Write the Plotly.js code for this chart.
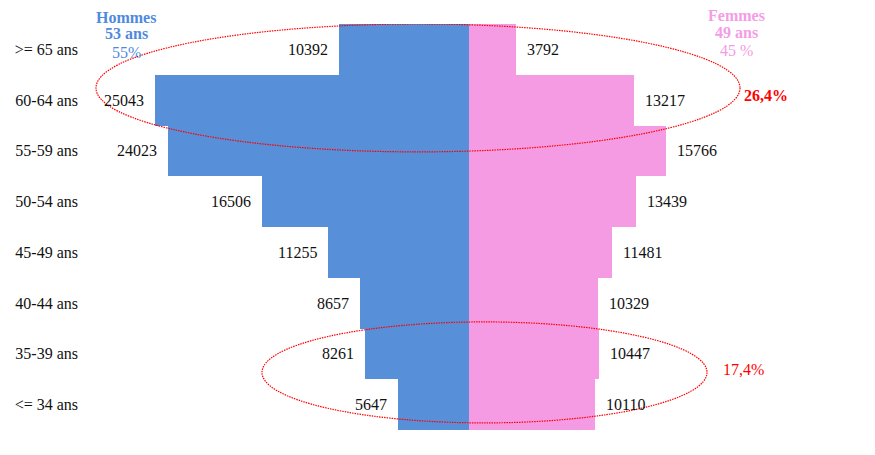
<!DOCTYPE html>
<html>
<head>
<meta charset="utf-8">
<script src="https://cdn.plot.ly/plotly-3.0.1.min.js"></script>
<style>html,body{margin:0;padding:0;background:#fff;}#chart{width:875px;height:455px;}</style>
</head>
<body>
<div id="chart"></div>
<script>
// Age groups, top to bottom
const categories = [">= 65 ans", "60-64 ans", "55-59 ans", "50-54 ans", "45-49 ans", "40-44 ans", "35-39 ans", "<= 34 ans"];
const hommes = [10392, 25043, 24023, 16506, 11255, 8657, 8261, 5647];
const femmes = [3792, 13217, 15766, 13439, 11481, 10329, 10447, 10110];
const hommesHeader = ["Hommes", "53 ans", "55%"];
const femmesHeader = ["Femmes", "49 ans", "45 %"];
const groupShares = ["26,4%", "17,4%"];

const blue = "#5790d9";
const pink = "#f59be3";
const serif = "'Liberation Serif', 'DejaVu Serif', serif";

const traces = [
  {
    type: "bar", orientation: "h", name: "Hommes",
    y: categories, x: hommes.map(v => -v),
    marker: {color: blue, line: {width: 0}},
    hoverinfo: "skip"
  },
  {
    type: "bar", orientation: "h", name: "Femmes",
    y: categories, x: femmes,
    marker: {color: pink, line: {width: 0}},
    hoverinfo: "skip"
  }
];

const annotations = [];
categories.forEach((c, i) => {
  annotations.push({x: -hommes[i], y: c, xref: "x", yref: "y", text: String(hommes[i]),
    showarrow: false, xanchor: "right", xshift: -9, font: {family: serif, size: 16, color: "#111"}});
  annotations.push({x: femmes[i], y: c, xref: "x", yref: "y", text: String(femmes[i]),
    showarrow: false, xanchor: "left", xshift: 9, font: {family: serif, size: 16, color: "#111"}});
});
const hy = [1.0172, 0.9754, 0.931];
const fy = [1.022, 0.978, 0.934];
hommesHeader.forEach((t, i) => annotations.push({x: 0.0519, y: hy[i], xref: "paper", yref: "paper", text: i < 2 ? "<b>" + t + "</b>" : t,
  showarrow: false, xanchor: "center", yanchor: "middle", font: {family: serif, size: 16, color: "#4f8ae0"}}));
femmesHeader.forEach((t, i) => annotations.push({x: 0.8253, y: fy[i], xref: "paper", yref: "paper", text: i < 2 ? "<b>" + t + "</b>" : t,
  showarrow: false, xanchor: "center", yanchor: "middle", font: {family: serif, size: 16, color: "#f49ce4"}}));
annotations.push({x: 0.862, y: 0.825, xref: "paper", yref: "paper", text: "<b>" + groupShares[0] + "</b>",
  showarrow: false, xanchor: "center", yanchor: "middle", font: {family: serif, size: 16, color: "#ff0000"}});
annotations.push({x: 0.834, y: 0.148, xref: "paper", yref: "paper", text: groupShares[1],
  showarrow: false, xanchor: "center", yanchor: "middle", font: {family: serif, size: 16, color: "#ff0000"}});

const shapes = [
  {type: "circle", xref: "x", yref: "y", x0: -29800, x1: 21720, y0: -0.5, y1: 2.02,
   line: {color: "#ff0000", width: 1.2, dash: "1.5px,1px"}},
  {type: "circle", xref: "x", yref: "y", x0: -16520, x1: 19080, y0: 5.37, y1: 7.36,
   line: {color: "#ff0000", width: 1.2, dash: "1.5px,1px"}}
];

const layout = {
  width: 875, height: 455,
  margin: {l: 85, r: 0, t: 24, b: 25, pad: 0},
  paper_bgcolor: "#fff", plot_bgcolor: "#fff",
  font: {family: serif},
  barmode: "overlay", bargap: 0,
  showlegend: false,
  hovermode: false,
  xaxis: {range: [-30680, 32520], showgrid: false, zeroline: false, showticklabels: false, ticks: "", showline: false, fixedrange: true},
  yaxis: {type: "category", range: [7.5, -0.5], showgrid: false, zeroline: false, ticks: "", showline: false,
          ticklabelstandoff: 6, tickfont: {family: serif, size: 16, color: "#111"}, fixedrange: true},
  annotations: annotations,
  shapes: shapes
};

Plotly.newPlot("chart", traces, layout, {displayModeBar: false, staticPlot: true});
</script>
</body>
</html>
